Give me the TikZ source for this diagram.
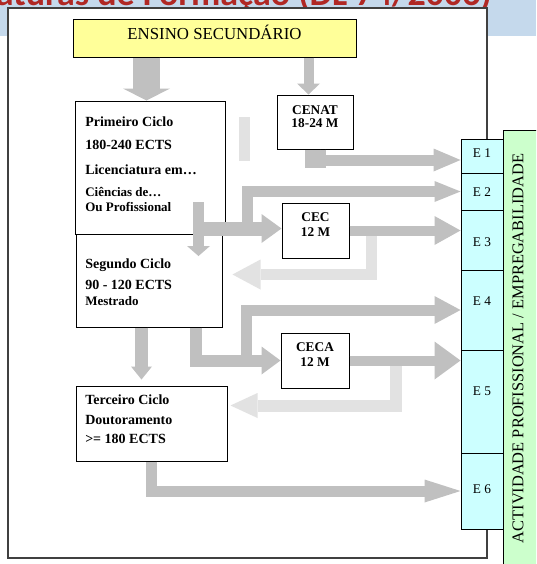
\documentclass[tikz,border=0pt]{standalone}
\usepackage{fontspec}
\setmainfont{Liberation Serif}
\newfontfamily\titlefont{Carlito}
\usetikzlibrary{arrows.meta, calc, fit}

\definecolor{bandblue}{RGB}{197,217,236}
\definecolor{titlered}{RGB}{176,40,36}
\definecolor{framegray}{RGB}{64,64,64}
\definecolor{secyellow}{RGB}{255,255,153}
\definecolor{empcyan}{RGB}{204,255,255}
\definecolor{actgreen}{RGB}{204,255,204}
\definecolor{arrgray}{RGB}{192,192,192}
\definecolor{arrlight}{RGB}{226,226,226}

\tikzset{
  box/.style={draw=black, line width=0.75pt, inner sep=0pt},
  ebox/.style={box, fill=empcyan},
  cyc/.style={anchor=north west, inner sep=0pt, align=left, font=\bfseries\fontsize{10.5}{11.25}\selectfont},
  ctr/.style={anchor=north, inner sep=0pt, align=center, font=\bfseries\fontsize{10}{10}\selectfont},
  elbl/.style={inner sep=0pt, font=\fontsize{10}{12}\selectfont},
  fat/.style n args={4}{draw=#1, line width=#2, line join=miter,
    -{Triangle[length=#3 0 0, width=#4 0 0, line width=0pt 0 0]}},
}

\begin{document}
\begin{tikzpicture}[x=0.75pt,y=0.75pt,yscale=-1,xscale=1]
        \useasboundingbox (0,0) rectangle (536,564);
        \clip (0,0) rectangle (536,564);

        %Band and title
        \fill[bandblue] (0,0) rectangle (536,36);
        \node[anchor=base east, inner sep=0pt, text=titlered, font=\titlefont\bfseries\fontsize{27}{30}\selectfont] (title) at (492,6) {aturas de Formação (DL 74/2006)};

        %Frame
        \node[draw=framegray, fill=white, line width=0.9pt, inner sep=0pt, fit={(8,8) (487,558)}] (frame) {};

        %Actividade profissional
        \node[box, fill=actgreen, fit={(503,130) (545,575)}] (act) {};
        \node[rotate=90, inner sep=0pt, font=\fontsize{12.3}{14}\selectfont] (acttxt) at (518,348.5) {ACTIVIDADE PROFISSIONAL / EMPREGABILIDADE};

        %Saidas E1..E6
        \node[ebox, fit={(461,139) (503,173)}] (e1) {};
        \node[ebox, fit={(461,173) (503,210)}] (e2) {};
        \node[ebox, fit={(461,210) (503,270)}] (e3) {};
        \node[ebox, fit={(461,270) (503,350)}] (e4) {};
        \node[ebox, fit={(461,350) (503,453)}] (e5) {};
        \node[ebox, fit={(461,453) (503,529)}] (e6) {};
        \node[elbl] (e1txt) at (482,153) {E 1};
        \node[elbl] (e2txt) at (482,192) {E 2};
        \node[elbl] (e3txt) at (482,242) {E 3};
        \node[elbl] (e4txt) at (482,301) {E 4};
        \node[elbl] (e5txt) at (482,391) {E 5};
        \node[elbl] (e6txt) at (482,489) {E 6};

        %Boxes
        \node[box, fill=secyellow, fit={(73,19) (356,57)}] (ensino) {};
        \node[anchor=base, inner sep=0pt, font=\fontsize{12.6}{14}\selectfont] (ensinotxt) at (214.5,39) {ENSINO SECUNDÁRIO};
        \node[box, fit={(277,95) (353,149)}] (cenat) {};
        \node[box, fit={(75,101) (225,234)}] (prim) {};
        \node[box, fit={(76,234) (222,327)}] (seg) {};
        \node[box, fit={(76,386) (227,461)}] (terc) {};
        \node[box, fit={(282,203) (349,258)}] (cec) {};
        \node[box, fit={(281,333) (349,388)}] (ceca) {};

        % Text Node
        \node[cyc] (primtxt) at (85,117) {Primeiro Ciclo\\[6pt]180-240 ECTS\\[7.5pt]Licenciatura em…\\[4.9pt]{\fontsize{9.75}{11.25}\selectfont Ciências de…}\\{\fontsize{9.75}{11.25}\selectfont Ou Profissional}};
        % Text Node
        \node[cyc] (segtxt) at (85,259) {Segundo Ciclo\\[4.5pt]90 - 120 ECTS\\[0.35pt]{\fontsize{9.75}{11.25}\selectfont Mestrado}};
        % Text Node
        \node[cyc] (terctxt) at (85,395) {Terceiro Ciclo\\[3.75pt]Doutoramento\\[3pt]>= 180 ECTS};
        % Text Node
        \node[ctr] (cenattxt) at (315,105) {CENAT\\18-24 M};
        \node[ctr] (cectxt) at (315.5,212) {CEC\\[1.5pt]12 M};
        \node[ctr] (cecatxt) at (315,342) {CECA\\[1.5pt]12 M};

        %Arrows
        \coordinate (a1) at ($(prim.north)+(-3.5,0)$);
        \coordinate (b1) at ($(cenat.north)+(-6.5,0)$);
        \coordinate (e1in) at ($(e1.west)+(0,4)$);
        \coordinate (p1) at ($(prim.south east)+(-32,-6)$);
        \coordinate (p2) at (198.5,202);
        \coordinate (p3) at (198.5,256);
        \coordinate (p4) at (247.5,229);
        \coordinate (p5) at (371,234);
        \coordinate (p6) at ($(seg.east)+(10,-6)$);
        \coordinate (p7) at ($(seg.south)+(-7.5,0)$);
        \coordinate (p8) at ($(terc.north)+(-10,-6)$);
        \coordinate (p9) at ($(seg.south)+(46.5,0)$);
        \coordinate (p10) at (246.5,361);
        \coordinate (p11) at (395.5,365);
        \coordinate (p12) at ($(terc.east)+(3,-18)$);

        \draw[arrlight, line width=8.25pt] (244.5,117) -- (244.5,161);
        \draw[fat={arrlight}{8.25pt}{21pt}{22.5pt}] (p5) |- (p6);
        \draw[fat={arrlight}{9pt}{20.25pt}{18.75pt}] (p11) |- (p12);

        \draw[fat={arrgray}{20.25pt}{9pt}{35.25pt}] (ensino.south -| a1) -- (a1);
        \draw[fat={arrgray}{7.5pt}{8.25pt}{17.25pt}] (ensino.south -| b1) -- (b1);
        \draw[arrgray, line width=15.75pt] (cenat.south) -- ++(0,18);
        \draw[fat={arrgray}{8.25pt}{20.25pt}{17.25pt}] (cenat.south) |- (e1in);
        \draw[fat={arrgray}{8.25pt}{7.5pt}{17.25pt}] (p2) -- (p3);
        \draw[fat={arrgray}{8.25pt}{19.5pt}{15.75pt}] (p4) |- (e2.west);
        \draw[fat={arrgray}{10.5pt}{15pt}{21.75pt}] (p1) -- (p1 -| cec.west);
        \draw[fat={arrgray}{7.5pt}{19.5pt}{21.75pt}] (cec.east) -- (cec.east -| e3.west);
        \draw[fat={arrgray}{9.75pt}{9.75pt}{15.75pt}] (p7) -- (p8);
        \draw[fat={arrgray}{8.25pt}{19.5pt}{21pt}] (p10) |- (e4.west);
        \draw[fat={arrgray}{9pt}{14.25pt}{21pt}] (p9) |- (ceca.west);
        \draw[fat={arrgray}{7.5pt}{19.5pt}{28.5pt}] (ceca.east) -- (ceca.east -| e5.west);
        \draw[fat={arrgray}{8.25pt}{27pt}{17.25pt}] (terc.south) |- (e6.west);

\end{tikzpicture}
\end{document}
